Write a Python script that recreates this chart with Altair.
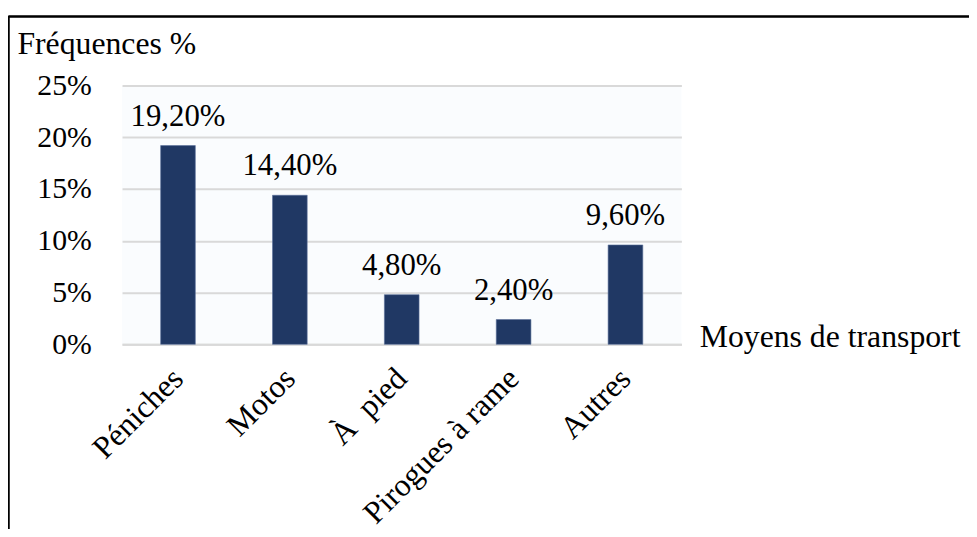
import altair as alt
import pandas as pd

categories = ["Péniches", "Motos", "À\u00a0 pied", "Pirogues à rame", "Autres"]
values = [19.2, 14.4, 4.8, 2.4, 9.6]
y_ticks = [0, 5, 10, 15, 20, 25]

df = pd.DataFrame({"cat": categories, "val": values})
df["label"] = [f"{v:.2f}%".replace(".", ",") for v in values]

FONT = "Liberation Serif"
NAVY = "#203864"

x_enc = alt.X(
    "cat:N", sort=categories,
    scale=alt.Scale(paddingInner=0.69, paddingOuter=0.345),
    axis=alt.Axis(
        title="Moyens de transport", titleAngle=0, titleX=582, titleY=2,
        titleAlign="left", titleBaseline="alphabetic",
        titleFont=FONT, titleFontSize=32, titleFontWeight="normal", titleColor="black",
        labelAngle=315, labelAlign="right", labelBaseline="middle", labelLimit=0,
        labelFont=FONT, labelFontSize=32, labelColor="black", labelPadding=29,
        ticks=False, domainColor="#d9d9d9", domainWidth=2, grid=False,
    ),
)
y_enc = alt.Y(
    "val:Q",
    scale=alt.Scale(domain=[0, 25], nice=False),
    axis=alt.Axis(
        values=y_ticks, labelExpr="datum.value + '%'",
        title="Fréquences %", titleAngle=0, titleX=-106, titleY=-32,
        titleAlign="left", titleBaseline="alphabetic",
        titleFont=FONT, titleFontSize=32, titleFontWeight="normal", titleColor="black",
        labelFont=FONT, labelFontSize=30, labelColor="black", labelPadding=31,
        ticks=False, domain=False, grid=True, gridColor="#d9d9d9", gridWidth=2,
    ),
)

bars = alt.Chart(df).mark_bar(color=NAVY, stroke="#5a6f99", strokeWidth=0.6).encode(x=x_enc, y=y_enc)
labels = alt.Chart(df).mark_text(
    font=FONT, fontSize=31, color="black", baseline="alphabetic", dy=-20
).encode(x=alt.X("cat:N", sort=categories), y="val:Q", text="label:N")

frame_top = alt.Chart(df).mark_rule(color="black", strokeWidth=1.5).encode(
    x=alt.value(-114.5), x2=alt.value(900), y=alt.value(-69.5)
)
frame_left = alt.Chart(df).mark_rule(color="black", strokeWidth=1.5).encode(
    x=alt.value(-114.5), y=alt.value(-69.5), y2=alt.value(500)
)

chart = alt.layer(bars, labels, frame_top, frame_left).properties(
    width=564, height=261,
    autosize=alt.AutoSizeParams(type="none"),
    padding={"left": 115, "top": 76, "right": 290, "bottom": 184},
).configure_view(stroke=None, fill="#fafcfe")

chart.save("out.html", embed_options={"renderer": "svg", "actions": False})
